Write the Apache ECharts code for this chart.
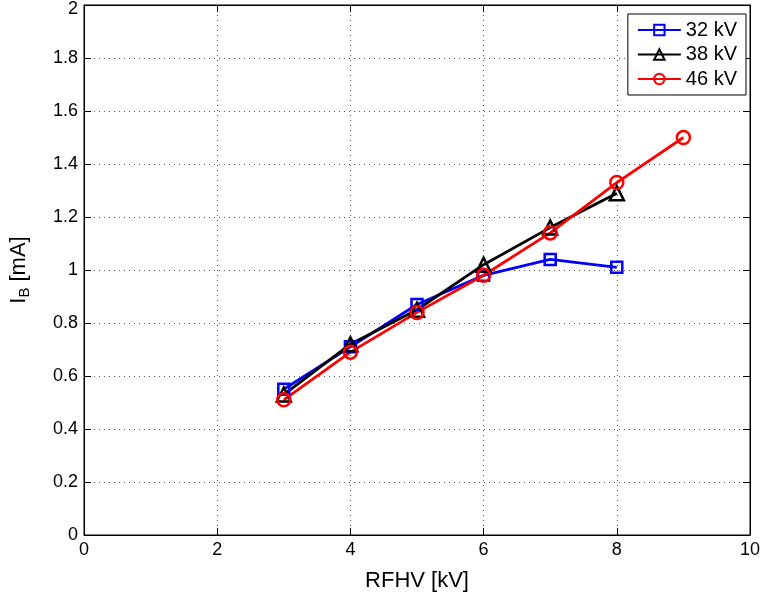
<!DOCTYPE html>
<html><head><meta charset="utf-8">
<script src="https://cdn.jsdelivr.net/npm/echarts@6/dist/echarts.min.js"></script>
<style>html,body{margin:0;padding:0;background:#fff}#c{width:766px;height:592px}</style>
</head><body><div id="c"></div>
<script>
const xValues = [3, 4, 5, 6, 7, 8, 9];
const seriesNames = ['32 kV', '38 kV', '46 kV'];
const kv32 = [0.55, 0.71, 0.87, 0.98, 1.04, 1.01, null];
const kv38 = [0.53, 0.72, 0.85, 1.02, 1.16, 1.29, null];
const kv46 = [0.51, 0.69, 0.84, 0.98, 1.14, 1.33, 1.50];
const xTicks = [0, 2, 4, 6, 8, 10];
const yTicks = [0, 0.2, 0.4, 0.6, 0.8, 1, 1.2, 1.4, 1.6, 1.8, 2];

const font = 'Liberation Sans, Arial, sans-serif';
function pairs(vals){ return xValues.map((x,i)=>[x, vals[i]]).filter(p=>p[1]!==null); }
function mk(name, vals, color, symbol, size){
  return {
    name, type:'line', data:pairs(vals), symbol, symbolSize:size,
    lineStyle:{color, width:2.8},
    itemStyle:{color:'rgba(255,255,255,0)', borderColor:color, borderWidth:2.5},
    emphasis:{disabled:true}, z: 3
  };
}
const chart = echarts.init(document.getElementById('c'));
const axisCommon = {
  axisLine:{show:true, onZero:false, lineStyle:{color:'#000', width:1}},
  axisTick:{show:true, inside:true, length:7, lineStyle:{color:'#000'}},
  axisLabel:{color:'#000', fontFamily:font, fontSize:18},
};
chart.setOption({
  animation:false,
  grid:{left:84, right:16, top:5, bottom:57, show:true, borderColor:'#000', borderWidth:1, containLabel:false, outerBoundsMode:'none'},
  legend:{
    data:seriesNames, orient:'vertical', right:20, top:14,
    backgroundColor:'#fff', borderColor:'#000', borderWidth:1,
    padding:[6,9,6,9], itemGap:4.5, itemWidth:43, itemHeight:13,
    textStyle:{fontFamily:font, fontSize:20, color:'#000', padding:[0,0,0,0]}
  },
  xAxis:[
    Object.assign({}, axisCommon, {
      type:'value', min:0, max:10, interval:2, position:'bottom',
      name:'RFHV [kV]', nameLocation:'middle', nameGap:35,
      nameTextStyle:{fontFamily:font, fontSize:22, color:'#000'},
      axisLabel:Object.assign({}, axisCommon.axisLabel, {margin:6, formatter:v=>xTicks.includes(v)?String(v):''}),
      splitLine:{show:true, lineStyle:{color:'#555', type:[1,4], width:1}}
    }),
    Object.assign({}, axisCommon, {
      type:'value', min:0, max:10, interval:2, position:'top',
      axisLabel:{show:false}, splitLine:{show:false}
    })
  ],
  yAxis:[
    Object.assign({}, axisCommon, {
      type:'value', min:0, max:2, interval:0.2, position:'left',
      name:'{a|I}{b|B}{a| [mA]}', nameLocation:'middle', nameGap:52, nameRotate:90,
      nameTextStyle:{rich:{
        a:{fontFamily:font, fontSize:22, color:'#000'},
        b:{fontFamily:font, fontSize:15, color:'#000', padding:[12,0,0,0]}
      }},
      axisLabel:Object.assign({}, axisCommon.axisLabel, {
        margin:6,
        formatter:v=>{
          const t=yTicks.find(y=>Math.abs(y-v)<1e-9);
          if(t===undefined) return '';
          return t===yTicks[yTicks.length-1] ? '{top|'+t+'}' : String(t);
        },
        rich:{top:{fontFamily:font, fontSize:18, color:'#000', padding:[8,0,0,0]}}
      }),
      splitLine:{show:true, lineStyle:{color:'#555', type:[1,4], width:1}}
    }),
    Object.assign({}, axisCommon, {
      type:'value', min:0, max:2, interval:0.2, position:'right',
      axisLabel:{show:false}, splitLine:{show:false}
    })
  ],
  series:[
    mk(seriesNames[0], kv32, '#0000ff', 'rect', 11),
    mk(seriesNames[1], kv38, '#000000', 'triangle', 14),
    mk(seriesNames[2], kv46, '#ff0000', 'circle', 13)
  ]
});
</script></body></html>
